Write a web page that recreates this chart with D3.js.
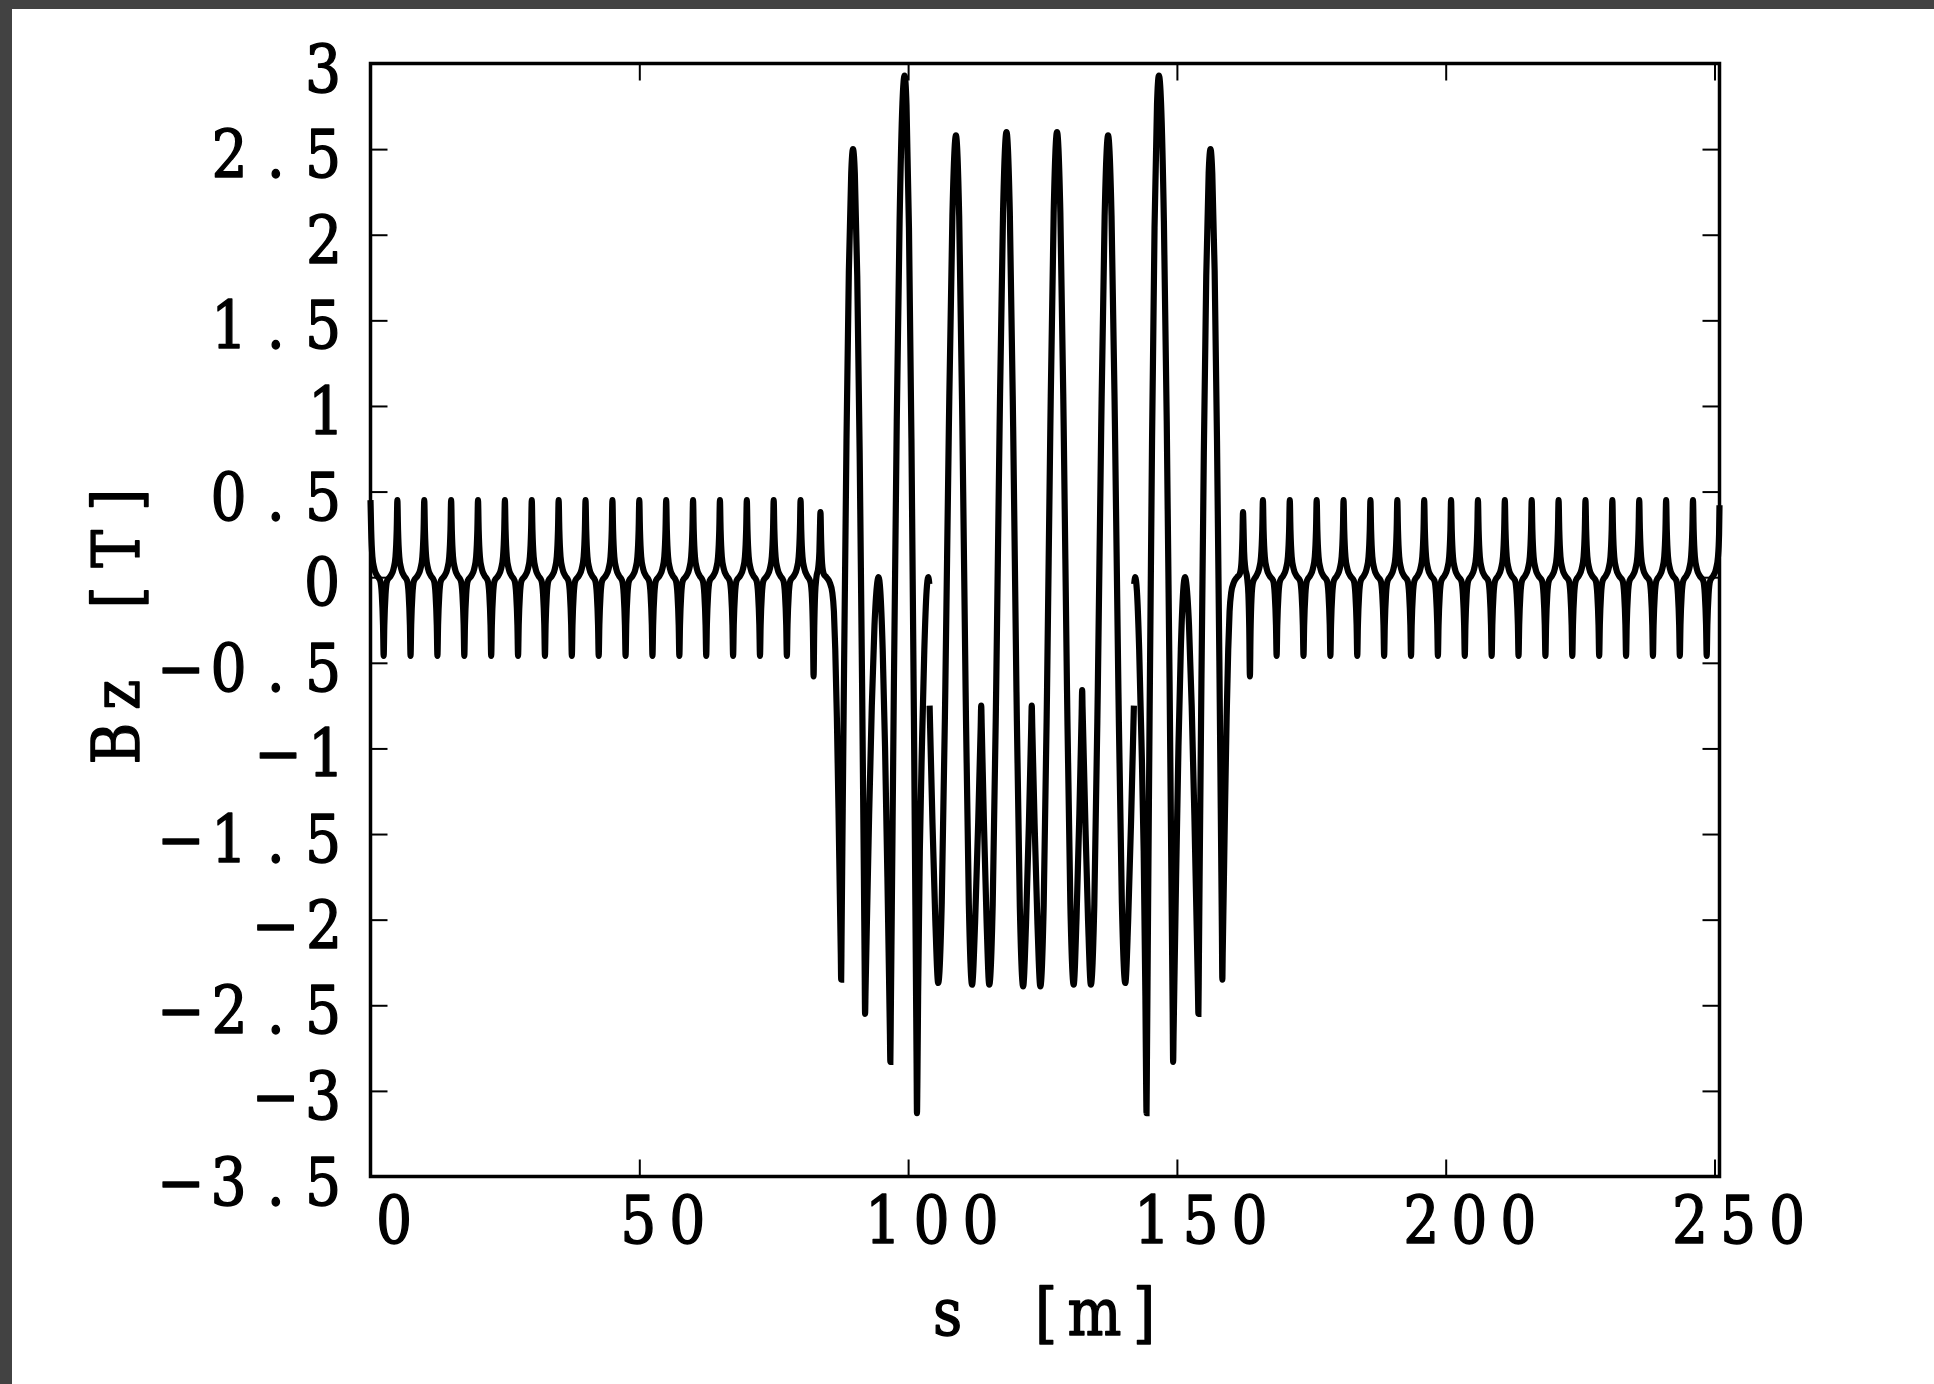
<!DOCTYPE html>
<html><head><meta charset="utf-8">
<script src="https://cdn.jsdelivr.net/npm/d3@7"></script>
<style>html,body{margin:0;padding:0;background:#fff;} svg{display:block}</style>
</head><body>
<svg id="chart" width="1934" height="1384"></svg>
<script>
// ---------------- data ----------------
const xTicks = [0, 50, 100, 150, 200, 250];
const yTicks = [3, 2.5, 2, 1.5, 1, 0.5, 0, -0.5, -1, -1.5, -2, -2.5, -3, -3.5];
const xDomain = [0, 250.93];
const yDomain = [-3.5, 3];
const xTitle = "s [m]";
const yTitle = "Bz [T]";

// periodic lattice, left part (s, Bz)
const leftPeriodic = [
[0,0.45],[0.12,0.28],[0.35,0.12],[0.7,0.05],[1.2,0.01],[1.8,-0.02],[2.1,-0.1],[2.33,-0.28],[2.45,-0.46],[2.57,-0.28],[2.8,-0.1],[3.1,-0.02],[3.8,0.01],[4.3,0.05],[4.65,0.12],[4.88,0.28],
[5,0.45],[5.12,0.28],[5.35,0.12],[5.7,0.05],[6.2,0.01],[6.8,-0.02],[7.1,-0.1],[7.33,-0.28],[7.45,-0.46],[7.57,-0.28],[7.8,-0.1],[8.1,-0.02],[8.8,0.01],[9.3,0.05],[9.65,0.12],[9.88,0.28],
[10,0.45],[10.12,0.28],[10.35,0.12],[10.7,0.05],[11.2,0.01],[11.8,-0.02],[12.1,-0.1],[12.33,-0.28],[12.45,-0.46],[12.57,-0.28],[12.8,-0.1],[13.1,-0.02],[13.8,0.01],[14.3,0.05],[14.65,0.12],[14.88,0.28],
[15,0.45],[15.12,0.28],[15.35,0.12],[15.7,0.05],[16.2,0.01],[16.8,-0.02],[17.1,-0.1],[17.33,-0.28],[17.45,-0.46],[17.57,-0.28],[17.8,-0.1],[18.1,-0.02],[18.8,0.01],[19.3,0.05],[19.65,0.12],[19.88,0.28],
[20,0.45],[20.12,0.28],[20.35,0.12],[20.7,0.05],[21.2,0.01],[21.8,-0.02],[22.1,-0.1],[22.33,-0.28],[22.45,-0.46],[22.57,-0.28],[22.8,-0.1],[23.1,-0.02],[23.8,0.01],[24.3,0.05],[24.65,0.12],[24.88,0.28],
[25,0.45],[25.12,0.28],[25.35,0.12],[25.7,0.05],[26.2,0.01],[26.8,-0.02],[27.1,-0.1],[27.33,-0.28],[27.45,-0.46],[27.57,-0.28],[27.8,-0.1],[28.1,-0.02],[28.8,0.01],[29.3,0.05],[29.65,0.12],[29.88,0.28],
[30,0.45],[30.12,0.28],[30.35,0.12],[30.7,0.05],[31.2,0.01],[31.8,-0.02],[32.1,-0.1],[32.33,-0.28],[32.45,-0.46],[32.57,-0.28],[32.8,-0.1],[33.1,-0.02],[33.8,0.01],[34.3,0.05],[34.65,0.12],[34.88,0.28],
[35,0.45],[35.12,0.28],[35.35,0.12],[35.7,0.05],[36.2,0.01],[36.8,-0.02],[37.1,-0.1],[37.33,-0.28],[37.45,-0.46],[37.57,-0.28],[37.8,-0.1],[38.1,-0.02],[38.8,0.01],[39.3,0.05],[39.65,0.12],[39.88,0.28],
[40,0.45],[40.12,0.28],[40.35,0.12],[40.7,0.05],[41.2,0.01],[41.8,-0.02],[42.1,-0.1],[42.33,-0.28],[42.45,-0.46],[42.57,-0.28],[42.8,-0.1],[43.1,-0.02],[43.8,0.01],[44.3,0.05],[44.65,0.12],[44.88,0.28],
[45,0.45],[45.12,0.28],[45.35,0.12],[45.7,0.05],[46.2,0.01],[46.8,-0.02],[47.1,-0.1],[47.33,-0.28],[47.45,-0.46],[47.57,-0.28],[47.8,-0.1],[48.1,-0.02],[48.8,0.01],[49.3,0.05],[49.65,0.12],[49.88,0.28],
[50,0.45],[50.12,0.28],[50.35,0.12],[50.7,0.05],[51.2,0.01],[51.8,-0.02],[52.1,-0.1],[52.33,-0.28],[52.45,-0.46],[52.57,-0.28],[52.8,-0.1],[53.1,-0.02],[53.8,0.01],[54.3,0.05],[54.65,0.12],[54.88,0.28],
[55,0.45],[55.12,0.28],[55.35,0.12],[55.7,0.05],[56.2,0.01],[56.8,-0.02],[57.1,-0.1],[57.33,-0.28],[57.45,-0.46],[57.57,-0.28],[57.8,-0.1],[58.1,-0.02],[58.8,0.01],[59.3,0.05],[59.65,0.12],[59.88,0.28],
[60,0.45],[60.12,0.28],[60.35,0.12],[60.7,0.05],[61.2,0.01],[61.8,-0.02],[62.1,-0.1],[62.33,-0.28],[62.45,-0.46],[62.57,-0.28],[62.8,-0.1],[63.1,-0.02],[63.8,0.01],[64.3,0.05],[64.65,0.12],[64.88,0.28],
[65,0.45],[65.12,0.28],[65.35,0.12],[65.7,0.05],[66.2,0.01],[66.8,-0.02],[67.1,-0.1],[67.33,-0.28],[67.45,-0.46],[67.57,-0.28],[67.8,-0.1],[68.1,-0.02],[68.8,0.01],[69.3,0.05],[69.65,0.12],[69.88,0.28],
[70,0.45],[70.12,0.28],[70.35,0.12],[70.7,0.05],[71.2,0.01],[71.8,-0.02],[72.1,-0.1],[72.33,-0.28],[72.45,-0.46],[72.57,-0.28],[72.8,-0.1],[73.1,-0.02],[73.8,0.01],[74.3,0.05],[74.65,0.12],[74.88,0.28],
[75,0.45],[75.12,0.28],[75.35,0.12],[75.7,0.05],[76.2,0.01],[76.8,-0.02],[77.1,-0.1],[77.33,-0.28],[77.45,-0.46],[77.57,-0.28],[77.8,-0.1],[78.1,-0.02],[78.8,0.01],[79.3,0.05],[79.65,0.12],[79.88,0.28]
];

// transition + first strong section (ends at s ~ 104)
const centralA = [
[80,0.45],[80.12,0.28],[80.35,0.12],[80.7,0.05],[81.2,0.01],[81.85,-0.03],[82.12,-0.12],[82.3,-0.32],[82.42,-0.58],[82.54,-0.3],[82.7,-0.1],[82.95,0],[83.3,0.06],[83.5,0.15],[83.6,0.28],[83.7,0.38],[83.82,0.22],[84,0.08],[84.3,0.02],[84.8,0],[85.4,-0.03],[85.9,-0.09],[86.2,-0.2],[86.45,-0.42],[86.75,-0.82],[87.05,-1.35],[87.3,-1.85],[87.48,-2.2],[87.55,-2.35],[87.62,-2.1],[87.77,-1.59],[88.1,-0.49],[88.54,0.8],[88.98,1.79],[89.42,2.36],[89.75,2.5],[90.09,2.36],[90.54,1.76],[90.99,0.73],[91.44,-0.62],[91.78,-1.76],[91.92,-2.27],[92,-2.55],[92.08,-2.42],[92.25,-2.15],[92.75,-1.39],[93.25,-0.75],[93.75,-0.28],[94.2,-0.05],[94.5,0],[94.83,-0.08],[95.27,-0.42],[95.71,-0.99],[96.15,-1.75],[96.48,-2.39],[96.62,-2.67],[96.7,-2.83],[96.78,-2.56],[96.97,-1.93],[97.36,-0.62],[97.89,0.91],[98.42,2.08],[98.95,2.77],[99.35,2.93],[99.7,2.76],[100.16,2.04],[100.62,0.81],[101.08,-0.81],[101.42,-2.18],[101.58,-2.84],[101.65,-3.13],[101.72,-2.97],[101.86,-2.45],[102.18,-1.6],[102.6,-0.95],[103.02,-0.42],[103.44,-0.08],[103.75,0],[103.95,-0.04]
];

// middle section (s ~ 104 to 142)
const centralB = [
[104,-0.75],[104.1,-0.88],[104.53,-1.43],[105.07,-2.01],[105.6,-2.37],[106.26,-1.9],[106.92,-0.66],[107.58,0.87],[108.24,2.11],[108.9,2.58],[109.5,2.11],[110.1,0.87],[110.7,-0.67],[111.3,-1.91],[111.9,-2.38],[112.46,-2.02],[113.04,-1.43],[113.5,-0.88],[113.6,-0.75],[113.7,-0.88],[114.1,-1.43],[114.6,-2.01],[115.1,-2.38],[115.74,-1.91],[116.38,-0.66],[117.02,0.88],[117.66,2.13],[118.3,2.6],[118.92,2.13],[119.54,0.88],[120.16,-0.67],[120.78,-1.92],[121.4,-2.39],[121.93,-2.03],[122.47,-1.44],[122.9,-0.88],[123,-0.75],[123.1,-0.88],[123.53,-1.44],[124.07,-2.03],[124.6,-2.39],[125.22,-1.92],[125.84,-0.67],[126.46,0.88],[127.08,2.13],[127.7,2.6],[128.32,2.13],[128.94,0.88],[129.56,-0.66],[130.18,-1.91],[130.8,-2.38],[131.32,-2],[131.86,-1.38],[132.28,-0.8],[132.38,-0.66],[132.45,-0.76],[132.55,-0.89],[132.97,-1.43],[133.48,-2.01],[134,-2.38],[134.64,-1.91],[135.28,-0.67],[135.92,0.87],[136.56,2.11],[137.2,2.58],[137.84,2.11],[138.48,0.87],[139.12,-0.66],[139.76,-1.9],[140.4,-2.37],[140.93,-2.01],[141.47,-1.43],[141.9,-0.88],[142,-0.75]
];

// second strong section + transition (s ~ 142 to 166)
const centralC = [
[142.05,-0.04],[142.25,0],[142.56,-0.08],[142.98,-0.42],[143.4,-0.95],[143.82,-1.6],[144.14,-2.45],[144.28,-2.97],[144.35,-3.13],[144.42,-2.84],[144.58,-2.18],[144.92,-0.81],[145.38,0.81],[145.84,2.04],[146.3,2.76],[146.65,2.93],[147.05,2.77],[147.58,2.08],[148.11,0.91],[148.64,-0.62],[149.03,-1.93],[149.22,-2.56],[149.3,-2.83],[149.38,-2.67],[149.52,-2.39],[149.85,-1.75],[150.29,-0.99],[150.73,-0.42],[151.17,-0.08],[151.5,0],[151.8,-0.05],[152.25,-0.28],[152.75,-0.75],[153.25,-1.39],[153.75,-2.15],[153.92,-2.42],[154,-2.55],[154.08,-2.27],[154.22,-1.76],[154.56,-0.62],[155.01,0.73],[155.46,1.76],[155.91,2.36],[156.25,2.5],[156.58,2.36],[157.02,1.79],[157.46,0.8],[157.9,-0.49],[158.23,-1.59],[158.38,-2.1],[158.45,-2.35],[158.52,-2.2],[158.7,-1.85],[158.95,-1.35],[159.25,-0.82],[159.55,-0.42],[159.8,-0.2],[160.1,-0.09],[160.6,-0.03],[161.2,0],[161.7,0.02],[162,0.08],[162.18,0.22],[162.3,0.38],[162.4,0.28],[162.5,0.15],[162.7,0.06],[163.05,0],[163.3,-0.1],[163.46,-0.3],[163.58,-0.58],[163.7,-0.32],[163.88,-0.12],[164.15,-0.03],[164.8,0.01],[165.3,0.05],[165.65,0.12],[165.88,0.28]
];

// periodic lattice, right part
const rightPeriodic = [
[166,0.45],[166.12,0.28],[166.35,0.12],[166.7,0.05],[167.2,0.01],[167.9,-0.02],[168.2,-0.1],[168.43,-0.28],[168.55,-0.46],[168.67,-0.28],[168.9,-0.1],[169.2,-0.02],[169.8,0.01],[170.3,0.05],[170.65,0.12],[170.88,0.28],
[171,0.45],[171.12,0.28],[171.35,0.12],[171.7,0.05],[172.2,0.01],[172.9,-0.02],[173.2,-0.1],[173.43,-0.28],[173.55,-0.46],[173.67,-0.28],[173.9,-0.1],[174.2,-0.02],[174.8,0.01],[175.3,0.05],[175.65,0.12],[175.88,0.28],
[176,0.45],[176.12,0.28],[176.35,0.12],[176.7,0.05],[177.2,0.01],[177.9,-0.02],[178.2,-0.1],[178.43,-0.28],[178.55,-0.46],[178.67,-0.28],[178.9,-0.1],[179.2,-0.02],[179.8,0.01],[180.3,0.05],[180.65,0.12],[180.88,0.28],
[181,0.45],[181.12,0.28],[181.35,0.12],[181.7,0.05],[182.2,0.01],[182.9,-0.02],[183.2,-0.1],[183.43,-0.28],[183.55,-0.46],[183.67,-0.28],[183.9,-0.1],[184.2,-0.02],[184.8,0.01],[185.3,0.05],[185.65,0.12],[185.88,0.28],
[186,0.45],[186.12,0.28],[186.35,0.12],[186.7,0.05],[187.2,0.01],[187.9,-0.02],[188.2,-0.1],[188.43,-0.28],[188.55,-0.46],[188.67,-0.28],[188.9,-0.1],[189.2,-0.02],[189.8,0.01],[190.3,0.05],[190.65,0.12],[190.88,0.28],
[191,0.45],[191.12,0.28],[191.35,0.12],[191.7,0.05],[192.2,0.01],[192.9,-0.02],[193.2,-0.1],[193.43,-0.28],[193.55,-0.46],[193.67,-0.28],[193.9,-0.1],[194.2,-0.02],[194.8,0.01],[195.3,0.05],[195.65,0.12],[195.88,0.28],
[196,0.45],[196.12,0.28],[196.35,0.12],[196.7,0.05],[197.2,0.01],[197.9,-0.02],[198.2,-0.1],[198.43,-0.28],[198.55,-0.46],[198.67,-0.28],[198.9,-0.1],[199.2,-0.02],[199.8,0.01],[200.3,0.05],[200.65,0.12],[200.88,0.28],
[201,0.45],[201.12,0.28],[201.35,0.12],[201.7,0.05],[202.2,0.01],[202.9,-0.02],[203.2,-0.1],[203.43,-0.28],[203.55,-0.46],[203.67,-0.28],[203.9,-0.1],[204.2,-0.02],[204.8,0.01],[205.3,0.05],[205.65,0.12],[205.88,0.28],
[206,0.45],[206.12,0.28],[206.35,0.12],[206.7,0.05],[207.2,0.01],[207.9,-0.02],[208.2,-0.1],[208.43,-0.28],[208.55,-0.46],[208.67,-0.28],[208.9,-0.1],[209.2,-0.02],[209.8,0.01],[210.3,0.05],[210.65,0.12],[210.88,0.28],
[211,0.45],[211.12,0.28],[211.35,0.12],[211.7,0.05],[212.2,0.01],[212.9,-0.02],[213.2,-0.1],[213.43,-0.28],[213.55,-0.46],[213.67,-0.28],[213.9,-0.1],[214.2,-0.02],[214.8,0.01],[215.3,0.05],[215.65,0.12],[215.88,0.28],
[216,0.45],[216.12,0.28],[216.35,0.12],[216.7,0.05],[217.2,0.01],[217.9,-0.02],[218.2,-0.1],[218.43,-0.28],[218.55,-0.46],[218.67,-0.28],[218.9,-0.1],[219.2,-0.02],[219.8,0.01],[220.3,0.05],[220.65,0.12],[220.88,0.28],
[221,0.45],[221.12,0.28],[221.35,0.12],[221.7,0.05],[222.2,0.01],[222.9,-0.02],[223.2,-0.1],[223.43,-0.28],[223.55,-0.46],[223.67,-0.28],[223.9,-0.1],[224.2,-0.02],[224.8,0.01],[225.3,0.05],[225.65,0.12],[225.88,0.28],
[226,0.45],[226.12,0.28],[226.35,0.12],[226.7,0.05],[227.2,0.01],[227.9,-0.02],[228.2,-0.1],[228.43,-0.28],[228.55,-0.46],[228.67,-0.28],[228.9,-0.1],[229.2,-0.02],[229.8,0.01],[230.3,0.05],[230.65,0.12],[230.88,0.28],
[231,0.45],[231.12,0.28],[231.35,0.12],[231.7,0.05],[232.2,0.01],[232.9,-0.02],[233.2,-0.1],[233.43,-0.28],[233.55,-0.46],[233.67,-0.28],[233.9,-0.1],[234.2,-0.02],[234.8,0.01],[235.3,0.05],[235.65,0.12],[235.88,0.28],
[236,0.45],[236.12,0.28],[236.35,0.12],[236.7,0.05],[237.2,0.01],[237.9,-0.02],[238.2,-0.1],[238.43,-0.28],[238.55,-0.46],[238.67,-0.28],[238.9,-0.1],[239.2,-0.02],[239.8,0.01],[240.3,0.05],[240.65,0.12],[240.88,0.28],
[241,0.45],[241.12,0.28],[241.35,0.12],[241.7,0.05],[242.2,0.01],[242.9,-0.02],[243.2,-0.1],[243.43,-0.28],[243.55,-0.46],[243.67,-0.28],[243.9,-0.1],[244.2,-0.02],[244.8,0.01],[245.3,0.05],[245.65,0.12],[245.88,0.28],
[246,0.45],[246.12,0.28],[246.35,0.12],[246.7,0.05],[247.2,0.01],[247.9,-0.02],[248.2,-0.1],[248.43,-0.28],[248.55,-0.46],[248.67,-0.28],[248.9,-0.1],[249.2,-0.02],[249.8,0.01],[250.3,0.05],[250.65,0.12],[250.85,0.25],[250.93,0.42]
];

// the curve is drawn as separate pieces (gaps near s = 104 and s = 142)
const segments = [leftPeriodic.concat(centralA), centralB, centralC.concat(rightPeriodic)];

// ---------------- drawing ----------------
const W = 1934, H = 1384;
const plot = {x0: 370.5, x1: 1719.5, y0: 63.5, y1: 1176.5};
const svg = d3.select('#chart');

svg.append('rect').attr('width', W).attr('height', H).attr('fill', '#ffffff');
svg.append('rect').attr('x', 0).attr('y', 0).attr('width', W).attr('height', 9).attr('fill', '#424242');
svg.append('rect').attr('x', 0).attr('y', 0).attr('width', 12).attr('height', H).attr('fill', '#424242');

const x = d3.scaleLinear().domain(xDomain).range([plot.x0, plot.x1]);
const y = d3.scaleLinear().domain(yDomain).range([plot.y1, plot.y0]);

// curve
const line = d3.line().x(d => x(d[0])).y(d => y(d[1])).curve(d3.curveMonotoneX);
svg.append('g').selectAll('path').data(segments).join('path')
  .attr('d', line)
  .attr('fill', 'none')
  .attr('stroke', '#000')
  .attr('stroke-width', 6.2);

// inward ticks on all four sides
function styleAxis(g) {
  g.select('.domain').remove();
  g.selectAll('.tick line').attr('stroke', '#000').attr('stroke-width', 2);
  g.selectAll('.tick text').remove();
}
svg.append('g').attr('transform', `translate(0,${plot.y1})`)
  .call(d3.axisBottom(x).tickValues(xTicks).tickSize(-17).tickFormat('')).call(styleAxis);
svg.append('g').attr('transform', `translate(0,${plot.y0})`)
  .call(d3.axisTop(x).tickValues(xTicks).tickSize(-17).tickFormat('')).call(styleAxis);
svg.append('g').attr('transform', `translate(${plot.x0},0)`)
  .call(d3.axisLeft(y).tickValues(yTicks).tickSize(-17).tickFormat('')).call(styleAxis);
svg.append('g').attr('transform', `translate(${plot.x1},0)`)
  .call(d3.axisRight(y).tickValues(yTicks).tickSize(-17).tickFormat('')).call(styleAxis);

// frame
svg.append('rect')
  .attr('x', plot.x0).attr('y', plot.y0)
  .attr('width', plot.x1 - plot.x0).attr('height', plot.y1 - plot.y0)
  .attr('fill', 'none').attr('stroke', '#000').attr('stroke-width', 3.5);

// ---------------- text: slab-serif glyphs set on a fixed (monospace) pitch ----------------
const FONT = '"DejaVu Serif", "Liberation Serif", serif';
const ctx = document.createElement('canvas').getContext('2d');
ctx.font = `100px ${FONT}`;
const m0 = ctx.measureText('0');
const F = 100 * 29 / (m0.actualBoundingBoxLeft + m0.actualBoundingBoxRight);
const SY = 49 / ((m0.actualBoundingBoxAscent + m0.actualBoundingBoxDescent) * F / 100);
ctx.font = `${F}px ${FONT}`;
function ink(ch) { const m = ctx.measureText(ch); return {L: m.actualBoundingBoxLeft, R: m.actualBoundingBoxRight}; }

// draw str with the ink of character i centred at centres[i] (local text coords)
function monoText(str, centres, transform) {
  const items = [];
  [...str].forEach((ch, i) => {
    if (ch === ' ') return;
    const k = ink(ch);
    items.push({ch, x: centres[i] - (k.R - k.L) / 2});
  });
  const t = svg.append('text')
    .attr('transform', transform)
    .attr('font-family', FONT)
    .attr('font-size', F)
    .attr('fill', '#000')
    .attr('stroke', '#000')
    .attr('stroke-width', 1.3)
    .attr('stroke-linejoin', 'round');
  t.selectAll('tspan').data(items).join('tspan')
    .attr('x', d => d.x).attr('y', 0).text(d => d.ch);
}
const fmt = v => (v < 0 ? '\u2212' : '') + String(Math.abs(v));
const PITCH = 47.3;

// y tick labels: right edge of ink at x ~ 337
yTicks.forEach(v => {
  const s = [...fmt(v)];
  const n = s.length;
  const k = ink(s[n - 1]);
  const cLast = 337 - (k.L + k.R) / 2;
  const centres = s.map((_, i) => cLast - (n - 1 - i) * PITCH);
  monoText(s.join(''), centres, `translate(0,${y(v) + 28}) scale(1,${SY})`);
});
// x tick labels: centred ~23px right of tick
xTicks.forEach(v => {
  const s = [...fmt(v)];
  const n = s.length;
  const c = x(v) + 23.5;
  const centres = s.map((_, i) => c + (i - (n - 1) / 2) * 49);
  monoText(s.join(''), centres, `translate(0,1243) scale(1,${SY})`);
});
// x title
{
  const s = [...xTitle];
  const centres = s.map((_, i) => 1046 + (i - (s.length - 1) / 2) * 49);
  monoText(xTitle, centres, `translate(0,1335) scale(1,${SY})`);
}
// y title (rotated, reads upward)
{
  const s = [...yTitle];
  const centres = s.map((_, i) => -(743.5 - i * 48.7));
  monoText(yTitle, centres, `translate(139,0) rotate(-90) scale(1,${SY})`);
}
</script>
</body></html>
